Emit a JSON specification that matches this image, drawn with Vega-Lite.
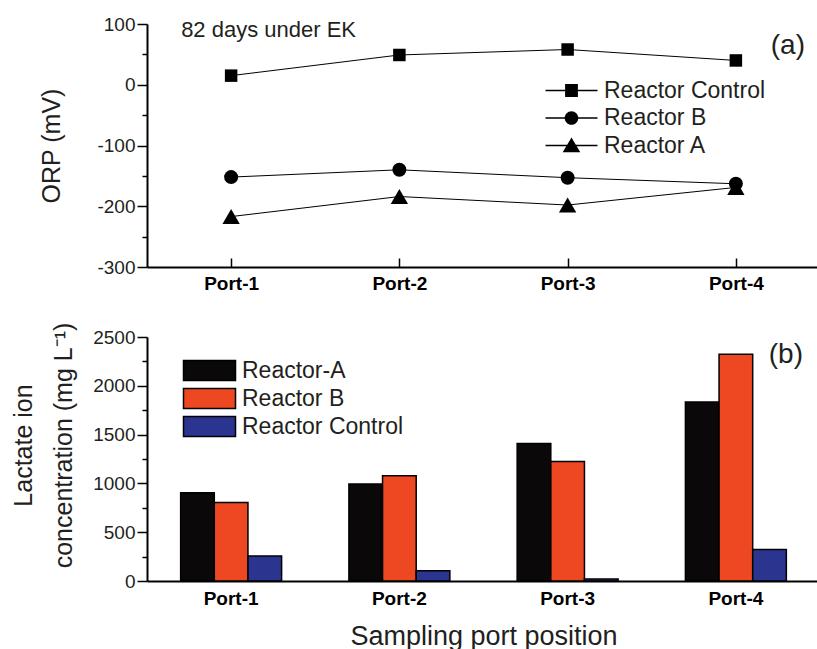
{
  "$schema": "https://vega.github.io/schema/vega-lite/v6.json",
  "padding": {"left": 11, "top": 15, "right": 0, "bottom": 0},
  "background": "white",
  "config": {
    "view": {"stroke": null},
    "font": "Liberation Sans",
    "axis": {"domainColor": "black", "domainWidth": 2, "tickColor": "black", "tickWidth": 1.5, "labelColor": "#231f20", "titleColor": "#231f20", "labelFont": "Liberation Sans", "titleFont": "Liberation Sans", "titleFontWeight": "normal", "grid": false},
    "legend": {"labelFont": "Liberation Sans", "labelColor": "#231f20", "labelFontSize": 23, "labelLimit": 400, "title": null}
  },
  "resolve": {"legend": {"color": "independent", "shape": "independent"}, "scale": {"x": "independent", "y": "independent"}},
  "datasets": {
    "orp": [
      {"port": "Port-1", "reactor": "Reactor Control", "orp": 15},
      {"port": "Port-2", "reactor": "Reactor Control", "orp": 49},
      {"port": "Port-3", "reactor": "Reactor Control", "orp": 58},
      {"port": "Port-4", "reactor": "Reactor Control", "orp": 40},
      {"port": "Port-1", "reactor": "Reactor B", "orp": -152},
      {"port": "Port-2", "reactor": "Reactor B", "orp": -140},
      {"port": "Port-3", "reactor": "Reactor B", "orp": -153},
      {"port": "Port-4", "reactor": "Reactor B", "orp": -163},
      {"port": "Port-1", "reactor": "Reactor A", "orp": -217},
      {"port": "Port-2", "reactor": "Reactor A", "orp": -184},
      {"port": "Port-3", "reactor": "Reactor A", "orp": -198},
      {"port": "Port-4", "reactor": "Reactor A", "orp": -169}
    ],
    "lactate": [
      {"port": "Port-1", "reactor": "Reactor-A", "lactate": 904},
      {"port": "Port-1", "reactor": "Reactor B", "lactate": 805},
      {"port": "Port-1", "reactor": "Reactor Control", "lactate": 256},
      {"port": "Port-2", "reactor": "Reactor-A", "lactate": 993},
      {"port": "Port-2", "reactor": "Reactor B", "lactate": 1078},
      {"port": "Port-2", "reactor": "Reactor Control", "lactate": 105},
      {"port": "Port-3", "reactor": "Reactor-A", "lactate": 1409},
      {"port": "Port-3", "reactor": "Reactor B", "lactate": 1225},
      {"port": "Port-3", "reactor": "Reactor Control", "lactate": 20},
      {"port": "Port-4", "reactor": "Reactor-A", "lactate": 1835},
      {"port": "Port-4", "reactor": "Reactor B", "lactate": 2323},
      {"port": "Port-4", "reactor": "Reactor Control", "lactate": 324}
    ]
  },
  "vconcat": [
    {
      "width": 673,
      "height": 243,
      "resolve": {"scale": {"shape": "independent"}, "legend": {"shape": "independent"}},
      "encoding": {
        "x": {"field": "port", "type": "nominal", "scale": {"domain": ["Port-1", "Port-2", "Port-3", "Port-4"]},
          "axis": {"title": null, "labelAngle": 0, "labelFontSize": 19, "labelFontWeight": "bold", "labelColor": "black", "tickSize": -9, "labelPadding": 16}},
        "y": {"field": "orp", "type": "quantitative", "scale": {"domain": [-300, 100], "nice": false},
          "axis": {"title": "ORP (mV)", "titleFontSize": 25, "labelFontSize": 19, "titlePadding": 32,
            "values": [-300, -250, -200, -150, -100, -50, 0, 50, 100],
            "labelExpr": "datum.value % 100 === 0 ? '' + datum.value : ''",
            "tickSize": {"condition": {"test": "datum.value % 100 === 0", "value": 10}, "value": 5}}}
      },
      "layer": [
        {
          "data": {"name": "orp"},
          "mark": {"type": "line", "color": "black", "strokeWidth": 1},
          "encoding": {"detail": {"field": "reactor", "type": "nominal"}}
        },
        {
          "data": {"name": "orp"},
          "mark": {"type": "point", "filled": true, "color": "black", "opacity": 1},
          "encoding": {
            "shape": {"field": "reactor", "type": "nominal",
              "scale": {"domain": ["Reactor Control", "Reactor B", "Reactor A"], "range": ["square", "circle", "triangle-up"]},
              "legend": null},
            "size": {"condition": [{"test": "datum.reactor === 'Reactor A'", "value": 300}, {"test": "datum.reactor === 'Reactor B'", "value": 196}], "value": 156}
          }
        },
        {
          "data": {"name": "orp"},
          "transform": [{"filter": "false"}],
          "mark": {"type": "point", "filled": true, "color": "black", "opacity": 1},
          "encoding": {
            "shape": {"field": "reactor", "type": "nominal",
              "scale": {"domain": ["Reactor Control", "Reactor B", "Reactor A"],
                "range": ["M-2.6,-0.07H2.6V0.07H-2.6ZM-0.64,-0.64H0.64V0.64H-0.64Z", "M-2.6,-0.07H2.6V0.07H-2.6ZM0.68,0A0.68,0.68,0,1,1,-0.68,0A0.68,0.68,0,1,1,0.68,0Z", "M-2.6,-0.07H2.6V0.07H-2.6ZM0,-0.8L0.88,0.68H-0.88Z"]},
              "legend": {"orient": "none", "legendX": 413, "legendY": 55, "symbolSize": 400, "labelOffset": 21, "rowPadding": 3.5,
                "symbolFillColor": "black", "symbolOpacity": 1}}
          }
        },
        {
          "data": {"values": [{"port": "Port-1", "orp": 90, "label": "82 days under EK"}]},
          "mark": {"type": "text", "align": "left", "baseline": "middle", "dx": -50, "fontSize": 22, "font": "Liberation Sans", "color": "#231f20"},
          "encoding": {"text": {"field": "label"}}
        },
        {
          "data": {"values": [{"port": "Port-4", "orp": 64, "label": "(a)"}]},
          "mark": {"type": "text", "align": "center", "baseline": "middle", "dx": 52, "fontSize": 28, "font": "Liberation Sans", "color": "#231f20"},
          "encoding": {"text": {"field": "label"}}
        }
      ]
    },
    {
      "width": 673,
      "height": 244,
      "encoding": {
        "x": {"field": "port", "type": "nominal", "scale": {"domain": ["Port-1", "Port-2", "Port-3", "Port-4"], "paddingInner": 0.4, "paddingOuter": 0.2},
          "axis": {"title": "Sampling port position", "titleFontSize": 27, "titlePadding": 15, "labelAngle": 0, "labelFontSize": 19, "labelFontWeight": "bold", "labelColor": "black", "ticks": false, "labelPadding": 8}},
        "y": {"field": "lactate", "type": "quantitative", "scale": {"domain": [0, 2500], "nice": false},
          "axis": {"title": ["Lactate ion", "concentration (mg L⁻¹)"], "titleFontSize": 25, "titleLineHeight": 40, "labelFontSize": 19, "titlePadding": 16, "titleY": 108,
            "values": [0, 250, 500, 750, 1000, 1250, 1500, 1750, 2000, 2250, 2500],
            "labelExpr": "datum.value % 500 === 0 ? '' + datum.value : ''",
            "tickSize": {"condition": {"test": "datum.value % 500 === 0", "value": 10}, "value": 5}}}
      },
      "layer": [
        {
          "data": {"name": "lactate"},
          "mark": {"type": "bar", "stroke": "black", "strokeWidth": 1.5, "opacity": 1},
          "encoding": {
            "xOffset": {"field": "reactor", "type": "nominal", "scale": {"domain": ["Reactor-A", "Reactor B", "Reactor Control"], "paddingInner": 0}},
            "color": {"field": "reactor", "type": "nominal",
              "scale": {"domain": ["Reactor-A", "Reactor B", "Reactor Control"], "range": ["#0a0808", "#ee4823", "#2b3590"]},
              "legend": {"orient": "none", "legendX": 51, "legendY": 22, "symbolType": "M-2.6,-1H2.6V1H-2.6Z", "symbolSize": 400, "labelOffset": 21, "rowPadding": 1, "symbolStrokeColor": "black", "symbolStrokeWidth": 1.5, "symbolOpacity": 1}}
          }
        },
        {
          "data": {"values": [{"port": "Port-4", "lactate": 2313, "label": "(b)"}]},
          "mark": {"type": "text", "align": "center", "baseline": "middle", "dx": 50, "fontSize": 28, "font": "Liberation Sans", "color": "#231f20"},
          "encoding": {"text": {"field": "label"}}
        }
      ]
    }
  ],
  "spacing": 29
}
